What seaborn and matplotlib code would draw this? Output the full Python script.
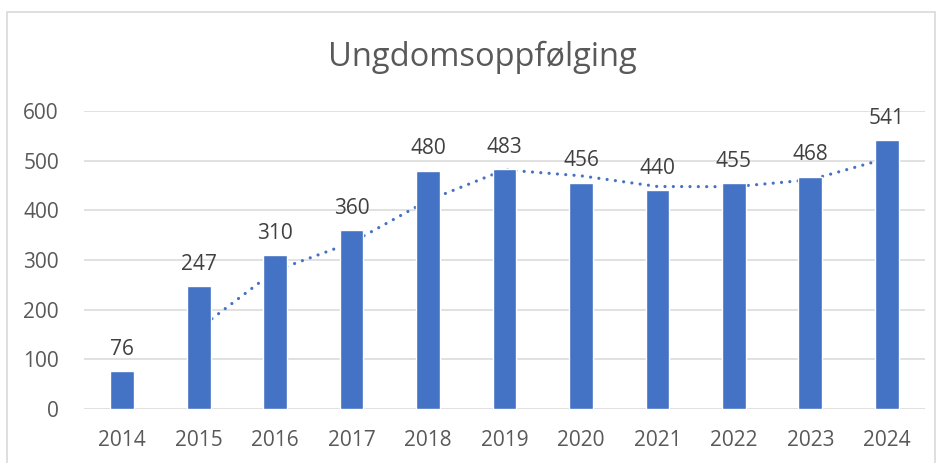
import numpy as np
import matplotlib
matplotlib.use("Agg")
import matplotlib.pyplot as plt
from matplotlib.patches import Rectangle
import seaborn as sns

title = "Ungdomsoppfølging"
years = ["2014", "2015", "2016", "2017", "2018", "2019", "2020", "2021", "2022", "2023", "2024"]
values = [76, 247, 310, 360, 480, 483, 456, 440, 455, 468, 541]
trend_years = ["2015", "2016", "2017", "2018", "2019", "2020", "2021", "2022", "2023", "2024"]
trend_values = [161.5, 278.5, 335, 420, 481.5, 469.5, 448, 447.5, 461.5, 504.5]
y_ticks = [0, 100, 200, 300, 400, 500, 600]

sns.set_theme(style="white")
plt.rcParams["font.family"] = ["Open Sans", "DejaVu Sans"]

BLUE = "#4472C4"
W, H = 942, 463
fig = plt.figure(figsize=(W / 100, H / 100), dpi=100)
fig.patch.set_facecolor("white")
fig.patches.append(Rectangle((7 / W, -0.05), 928 / W, 1.05 - 12 / H,
                             transform=fig.transFigure, fill=False,
                             edgecolor="#D9D9D9", linewidth=1.2))

ax = fig.add_axes([84 / W, 1 - 409 / H, (925 - 84) / W, (409 - 111) / H])
sns.barplot(x=years, y=values, order=years, color=BLUE, saturation=1,
            width=0.31, ax=ax, zorder=1)

pos = [years.index(y) for y in trend_years]
ax.plot(pos, trend_values, color=BLUE, linewidth=2.3,
        linestyle=(0, (0.01, 2.6)), dash_capstyle="round", zorder=0.8)

ax.set_ylim(0, 600)
ax.set_xlim(-0.5, len(years) - 0.5)
ax.set_yticks(y_ticks)
ax.yaxis.grid(True, color="#D9D9D9", linewidth=1.1)
ax.set_axisbelow(True)
for s in ax.spines.values():
    s.set_visible(False)
ax.tick_params(axis="both", length=0, labelsize=15, labelcolor="#595959")
ax.tick_params(axis="x", pad=15)
ax.tick_params(axis="y", pad=18)
ax.set_xlabel("")
ax.set_ylabel("")

for c in ax.containers:
    ax.bar_label(c, labels=[str(v) for v in values], padding=8,
                 fontsize=15, color="#404040")

fig.text(482 / W, 1 - 57 / H, title, ha="center", va="center",
         fontsize=23.5, color="#595959")

fig.savefig("out.png", dpi=100, facecolor="white")
